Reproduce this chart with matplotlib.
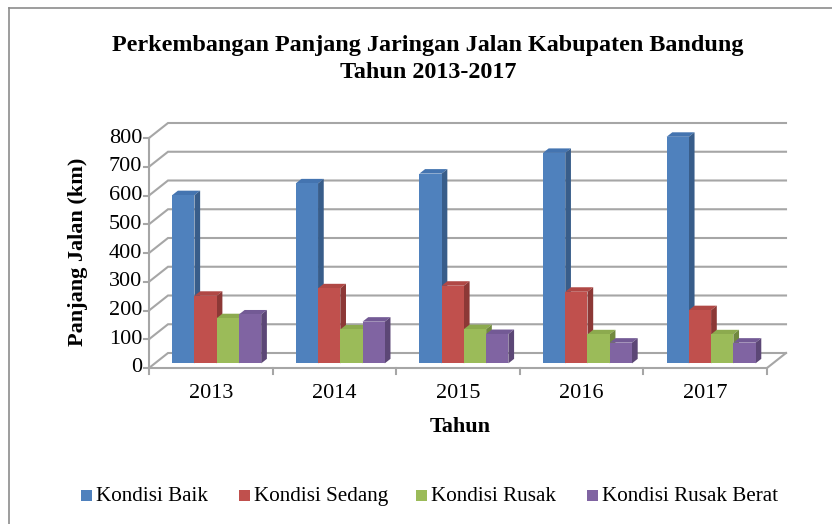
import matplotlib
matplotlib.use("Agg")
import matplotlib.pyplot as plt
from matplotlib.patches import Polygon, Rectangle
from matplotlib.lines import Line2D

# data
years = ["2013", "2014", "2015", "2016", "2017"]
series_names = ["Kondisi Baik", "Kondisi Sedang", "Kondisi Rusak", "Kondisi Rusak Berat"]
baik = [585, 626, 660, 732, 788]
sedang = [235, 261, 270, 249, 185]
rusak = [157, 118, 119, 101, 101]
rusak_berat = [170, 145, 102, 72, 72]
y_ticks = [0, 100, 200, 300, 400, 500, 600, 700, 800]

front_colors = ["#4F81BD", "#C0504D", "#9BBB59", "#8064A2"]
top_colors = ["#4474B0", "#B04845", "#8CAA4E", "#735A95"]
side_colors = ["#385D8A", "#8C3836", "#71893F", "#5C4776"]
grid_color = "#A6A6A6"

W, H = 832, 524
plt.rcParams["font.family"] = ["Liberation Serif", "DejaVu Serif"]

fig = plt.figure(figsize=(W / 100, H / 100), dpi=100)

# front plane of the 3d box, in pixels
px_left, px_right = 149, 767
py_zero, py_top = 368, 138
n = len(years)
ppx = (px_right - px_left) / n
ppy = (py_zero - py_top) / y_ticks[-1]

ax_l, ax_r, ax_t, ax_b = 100, 810, 100, 385
ax = fig.add_axes([ax_l / W, 1 - ax_b / H, (ax_r - ax_l) / W, (ax_b - ax_t) / H])
ax.set_xlim((ax_l - px_left) / ppx, (ax_r - px_left) / ppx)
ax.set_ylim((py_zero - ax_b) / ppy, (py_zero - ax_t) / ppy)
ax.axis("off")

# depth of the box (oblique projection)
dx = 19 / ppx
dy = 15 / ppy

# walls + floor
for v in y_ticks:
    ax.plot([0, dx, n + dx], [v, v + dy, v + dy], color=grid_color, lw=1.5,
            solid_joinstyle="miter", zorder=1)
ax.plot([0, n, n + dx], [0, 0, dy], color=grid_color, lw=1.5, solid_joinstyle="miter", zorder=1)
ax.plot([0, 0], [0, y_ticks[-1]], color=grid_color, lw=1.5, zorder=1)
for v in y_ticks:
    ax.plot([-5 / ppx, 0], [v, v], color=grid_color, lw=1.5, zorder=1)
    ax.text(-7 / ppx, v, str(v), ha="right", va="center", fontsize=16)
for i in range(n + 1):
    ax.plot([i, i], [0, -6 / ppy], color=grid_color, lw=1.5, zorder=1)
for i, yr in enumerate(years):
    ax.text(i + 0.5, -26 / ppy, yr, ha="center", va="center", fontsize=16)

# 3d bars
w = 0.18
f0, f1 = 0.31, 0.61
ddx, ddy = (f1 - f0) * dx, (f1 - f0) * dy
all_series = [baik, sedang, rusak, rusak_berat]
for j, vals in enumerate(all_series):
    xs = [i + 0.5 - 2 * w + j * w + f0 * dx for i in range(n)]
    b = f0 * dy
    ax.bar(xs, vals, width=w, bottom=b, align="edge", color=front_colors[j],
           linewidth=0, zorder=4 + 2 * j)
    for x0, v in zip(xs, vals):
        t = v + b
        ax.add_patch(Polygon([(x0, t), (x0 + w, t), (x0 + w + ddx, t + ddy), (x0 + ddx, t + ddy)],
                             closed=True, color=top_colors[j], lw=0, zorder=3 + 2 * j))
        ax.add_patch(Polygon([(x0 + w, b), (x0 + w, t), (x0 + w + ddx, t + ddy), (x0 + w + ddx, b + ddy)],
                             closed=True, color=side_colors[j], lw=0, zorder=3 + 2 * j))

# texts
fig.text(428 / W, 1 - 59 / H, "Perkembangan Panjang Jaringan Jalan Kabupaten Bandung\nTahun 2013-2017",
         ha="center", va="center", fontsize=17.4, fontweight="bold", linespacing=1.38)
fig.text(78 / W, 1 - 252 / H, "Panjang Jalan (km)", rotation=90, ha="center", va="center",
         fontsize=16, fontweight="bold")
fig.text(460 / W, 1 - 427 / H, "Tahun", ha="center", va="center", fontsize=16, fontweight="bold")

# legend, drawn by hand so all labels share one baseline
legend_x = [81, 239, 416, 587]
sq = 11
for lx, name, c in zip(legend_x, series_names, front_colors):
    fig.add_artist(Rectangle((lx / W, 1 - (495 + sq / 2) / H), sq / W, sq / H,
                             transform=fig.transFigure, facecolor=c, edgecolor="none"))
    fig.text((lx + sq + 4) / W, 1 - 501 / H, name, ha="left", va="baseline", fontsize=15.2)

# chart border (only top and left visible in the crop)
fig.add_artist(Line2D([9 / W, 9 / W], [0, 1 - 8 / H], transform=fig.transFigure, color="#8C8C8C", lw=1.2))
fig.add_artist(Line2D([9 / W, 1], [1 - 8 / H, 1 - 8 / H], transform=fig.transFigure, color="#8C8C8C", lw=1.2))

fig.savefig("out.png", dpi=100)
